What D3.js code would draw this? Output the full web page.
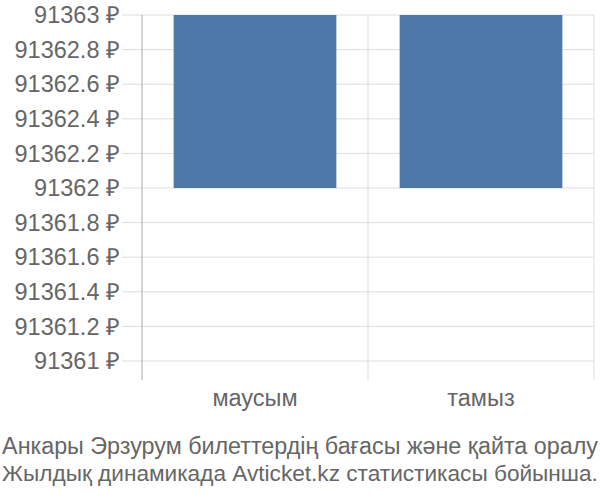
<!DOCTYPE html>
<html><head><meta charset="utf-8">
<script src="https://cdn.jsdelivr.net/npm/d3@7"></script>
<style>body{margin:0;background:#fff}svg{display:block;font-family:"Liberation Sans",Arial,sans-serif}</style>
</head><body>
<svg id="c" width="600" height="500"></svg>
<script>
const categories = ["маусым", "тамыз"];
const lowValues = [91362, 91362];
const highValues = [91363, 91363];
const yTicks = [91361, 91361.2, 91361.4, 91361.6, 91361.8, 91362, 91362.2, 91362.4, 91362.6, 91362.8, 91363];
const titleLines = ["Анкары Эрзурум билеттердің бағасы және қайта оралу", "Жылдық динамикада Avticket.kz статистикасы бойынша."];

(function () {
const svg = d3.select("#c");
const fs = 23.5;
const pL = 142, pR = 594, pT = 15, pB = 361;
const x = d3.scaleBand().domain(categories).range([pL, pR]).paddingInner(0.28).paddingOuter(0.14);
const xb = d3.scaleBand().domain(categories).range([pL, pR]);
const y = d3.scaleLinear().domain([91361, 91363]).range([pB, pT]);

svg.append("g").selectAll("line").data(yTicks).join("line")
  .attr("x1", 122).attr("x2", pR).attr("y1", d => y(d)).attr("y2", d => y(d))
  .attr("stroke", "#dddddd").attr("stroke-width", 1);
const vx = categories.map(c => xb(c)).concat([pR]);
svg.append("g").selectAll("line").data(vx).join("line")
  .attr("x1", d => d).attr("x2", d => d).attr("y1", pT).attr("y2", 380)
  .attr("stroke", (d, i) => i === 0 ? "#aaaaaa" : "#dddddd").attr("stroke-width", 1);

svg.append("g").selectAll("rect").data(categories).join("rect")
  .attr("x", d => x(d)).attr("width", x.bandwidth())
  .attr("y", (d, i) => y(highValues[i]))
  .attr("height", (d, i) => y(lowValues[i]) - y(highValues[i]))
  .attr("fill", "#4d79a8");

svg.append("g").selectAll("text").data(yTicks).join("text")
  .attr("x", 120).attr("y", d => y(d)).attr("dy", "0.35em")
  .attr("text-anchor", "end").attr("fill", "#666").attr("font-size", fs)
  .text(d => (+d.toFixed(1)) + " ₽");

svg.append("g").selectAll("text").data(categories).join("text")
  .attr("x", d => xb(d) + xb.bandwidth() / 2).attr("y", 406)
  .attr("text-anchor", "middle").attr("fill", "#666").attr("font-size", fs)
  .text(d => d);

const tt = svg.append("g").selectAll("text").data(titleLines).join("text")
  .attr("x", 300).attr("y", (d, i) => 454 + i * 27)
  .attr("text-anchor", "middle").attr("fill", "#666").attr("font-size", fs)
  .text(d => d);
// shrink title lines that would not fit the 596px width
tt.each(function () {
  const w = this.getComputedTextLength();
  if (w > 596) d3.select(this).attr("font-size", fs * 596 / w);
});
})();
</script>
</body></html>
